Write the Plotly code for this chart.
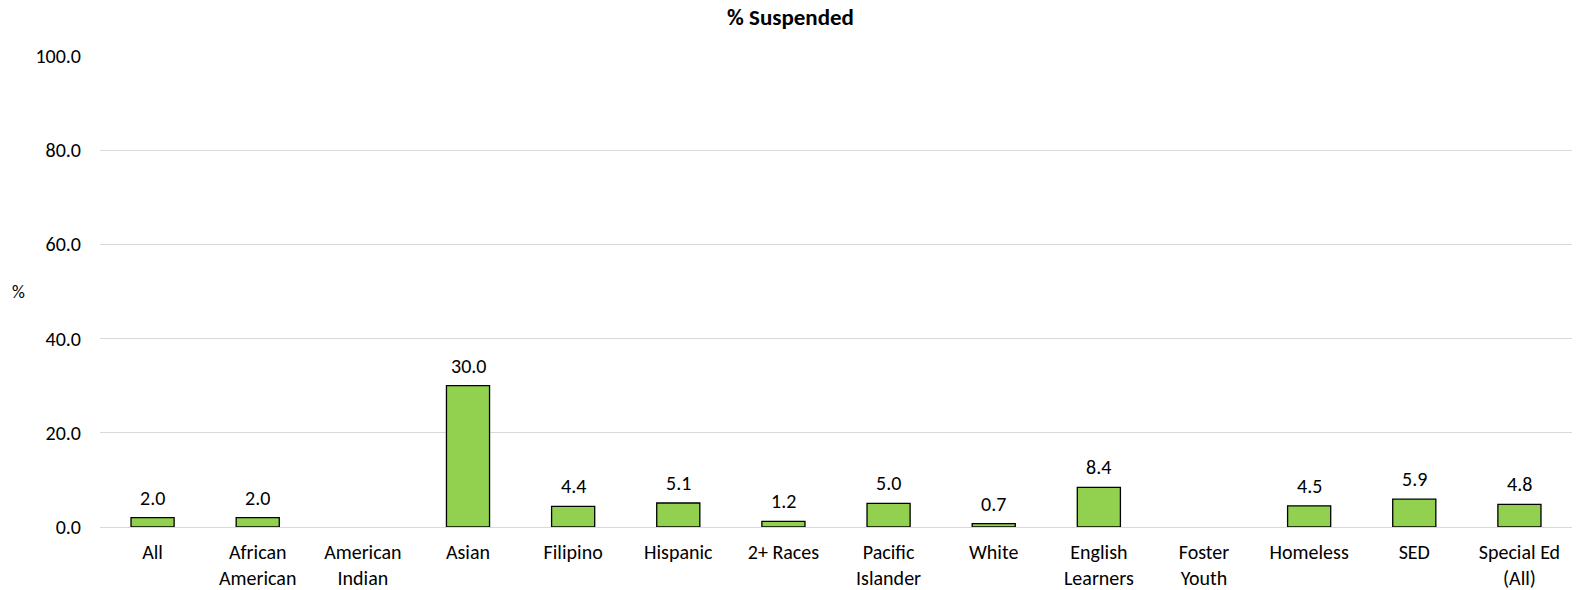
import plotly.graph_objects as go

categories = ["All", "African<br>American", "American<br>Indian", "Asian", "Filipino", "Hispanic",
              "2+ Races", "Pacific<br>Islander", "White", "English<br>Learners", "Foster<br>Youth",
              "Homeless", "SED", "Special Ed<br>(All)"]
values = [2.0, 2.0, None, 30.0, 4.4, 5.1, 1.2, 5.0, 0.7, 8.4, None, 4.5, 5.9, 4.8]
y_ticks = [0, 20, 40, 60, 80, 100]

FONT = "Carlito, Calibri, Lato, sans-serif"
FS = 20

fig = go.Figure(go.Bar(
    x=categories, y=values,
    marker=dict(color="#92D050", line=dict(color="#000000", width=1.3)),
    cliponaxis=False,
))

for c, v in zip(categories, values):
    if v is None:
        continue
    fig.add_annotation(x=c, y=v, xref="x", yref="y", text="%.1f" % v, showarrow=False,
                       yanchor="bottom", yshift=6, font=dict(family=FONT, size=FS, color="#000000"))

fig.update_layout(
    width=1581, height=590,
    margin=dict(l=100, r=9, t=56, b=63, autoexpand=False),
    paper_bgcolor="white", plot_bgcolor="white",
    bargap=0.59,
    showlegend=False,
    font=dict(family=FONT, size=FS, color="#000000"),
    title=dict(text="<b>% Suspended</b>", x=0.5, xanchor="center", y=1 - 17 / 590, yanchor="middle",
               font=dict(family=FONT, size=23, color="#000000")),
    xaxis=dict(showgrid=False, showline=False, ticks="", tickfont=dict(family=FONT, size=FS),
               ticklabelstandoff=11, automargin=False),
    yaxis=dict(range=[0, 100], tickvals=y_ticks, tickformat=".1f", showgrid=True, gridcolor="#D9D9D9",
               gridwidth=1, zeroline=True, zerolinecolor="#D9D9D9", zerolinewidth=1, showline=False,
               ticks="", ticklabelstandoff=18, tickfont=dict(family=FONT, size=FS), automargin=False),
)

fig.add_annotation(text="%", xref="paper", yref="paper", x=-100 / 1472, y=(527 - 292) / 471,
                   xanchor="left", yanchor="middle", showarrow=False,
                   font=dict(family=FONT, size=FS - 2, color="#000000"), xshift=10)

fig.write_html("out.html", config={"displayModeBar": False},
               post_script="document.body.style.margin='0';document.body.style.overflow='hidden';")
